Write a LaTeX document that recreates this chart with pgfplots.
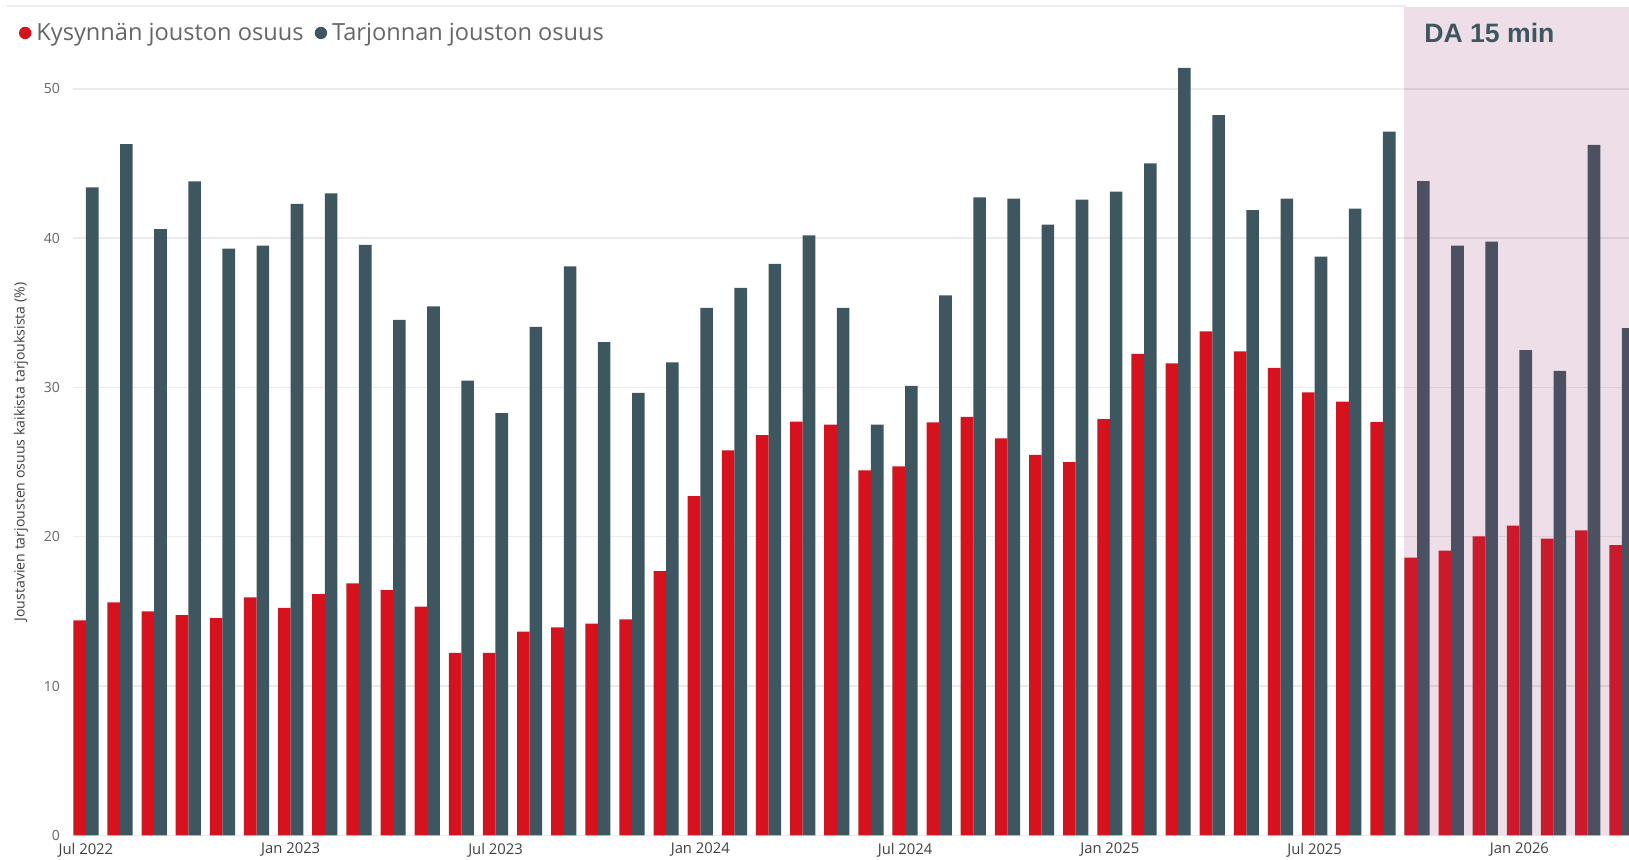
\documentclass[border=0pt]{standalone}
\usepackage{fontspec}
\setmainfont{Open Sans}
\newfontfamily\boldsans{Liberation Sans}
\usepackage{pgfplots}
\pgfplotsset{compat=1.18}
\usepackage{pgfplotstable}
\definecolor{redc}{HTML}{D7121F}
\definecolor{darkc}{HTML}{3E5660}
\definecolor{pinkc}{RGB}{150,60,110}
\definecolor{gridc}{HTML}{EBEBEB}
\definecolor{ytickc}{HTML}{666666}
\definecolor{xtickc}{HTML}{404040}
\definecolor{legc}{HTML}{666666}
\definecolor{topc}{HTML}{E9EDF1}

\pgfplotstableread{
i red dark
0 14.40 43.40
1 15.60 46.30
2 15.00 40.60
3 14.74 43.80
4 14.55 39.30
5 15.93 39.50
6 15.24 42.30
7 16.16 43.00
8 16.88 39.55
9 16.43 34.52
10 15.32 35.42
11 12.22 30.45
12 12.22 28.28
13 13.65 34.05
14 13.92 38.10
15 14.18 33.04
16 14.47 29.63
17 17.70 31.67
18 22.72 35.32
19 25.79 36.67
20 26.80 38.28
21 27.70 40.19
22 27.51 35.32
23 24.44 27.51
24 24.71 30.11
25 27.65 36.16
26 28.02 42.72
27 26.59 42.65
28 25.48 40.90
29 25.00 42.57
30 27.88 43.12
31 32.25 45.00
32 31.61 51.40
33 33.76 48.23
34 32.41 41.88
35 31.30 42.65
36 29.66 38.76
37 29.05 41.98
38 27.67 47.14
39 18.60 43.81
40 19.07 39.50
41 20.03 39.76
42 20.74 32.49
43 19.87 31.11
44 20.42 46.24
45 19.44 33.97
}\data

\begin{document}
\begin{tikzpicture}
\draw[color=topc, line width=0.9pt] (3.5pt,426.6pt) -- (702.8pt,426.6pt);
\begin{axis}[
  at={(36.35pt,11.85pt)}, anchor=south west,
  scale only axis, width=778.15pt, height=414.3pt,
  xmin=-0.387, xmax=45.21, ymin=0, ymax=55.5,
  ybar=0pt, bar width=0.369,
  axis line style={draw=none}, major tick length=0pt,
  ytick={0,10,...,50}, ymajorgrids,
  grid style={gridc, line width=0.7pt},
  xtick={0,6,...,42},
  xticklabels={Jul 2022,Jan 2023,Jul 2023,Jan 2024,Jul 2024,Jan 2025,Jul 2025,Jan 2026},
  /pgf/number format/assume math mode=true,
  yticklabel style={anchor=east, inner sep=0pt, xshift=-6.2pt, font=\fontsize{7}{8}\selectfont, text=ytickc},
  xticklabel style={anchor=center, inner sep=0pt, yshift=-7.35pt, font=\fontsize{7.4}{8}\selectfont, text=xtickc},
  ylabel={Joustavien tarjousten osuus kaikista tarjouksista (\%)},
  every axis y label/.style={at={(rel axis cs:0,0.4626)}, xshift=-25.85pt, anchor=center, rotate=90, font=\fontsize{7.05}{8}\selectfont, text=xtickc},
  legend style={at={(rel axis cs:-0.0345,0.9683)}, anchor=west, draw=none, fill=none, inner sep=0pt, outer sep=0pt,
    font=\fontsize{11.8}{14}\selectfont, text=legc, legend columns=-1,
    nodes={inner sep=0pt},
    /tikz/every odd column/.append style={column sep=2.5pt},
    /tikz/every even column/.append style={column sep=5.6pt}},
  legend cell align=left,
]
\addplot[fill=redc, draw=none, legend image code/.code={\fill[redc] (3.1pt,0pt) circle (3.1pt);}] table[x=i, y=red] {\data};
\addlegendentry{Kysynnän jouston osuus}
\addplot[fill=darkc, draw=none, legend image code/.code={\fill[darkc] (3.1pt,0pt) circle (3.1pt);}] table[x=i, y=dark] {\data};
\addlegendentry{Tarjonnan jouston osuus}
\fill[pinkc, opacity=0.17] (axis cs:38.62,0) rectangle (axis cs:45.4,55.5);
\end{axis}
\node[anchor=west, inner sep=0pt, font=\boldsans\bfseries\fontsize{13.3}{16}\selectfont, text=darkc] at (712pt,413pt) {DA 15 min};
\pgfresetboundingbox
\useasboundingbox (0,0) rectangle (814.5pt,429.5pt);
\end{tikzpicture}
\end{document}
